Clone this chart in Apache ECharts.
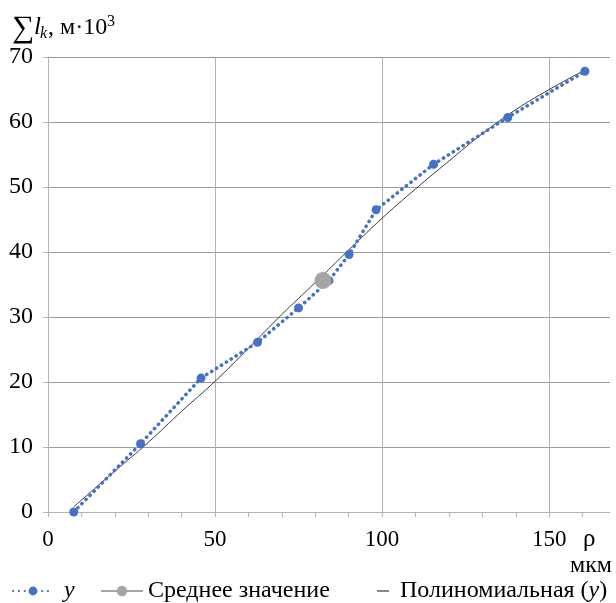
<!DOCTYPE html>
<html>
<head>
<meta charset="utf-8">
<script src="https://cdn.jsdelivr.net/npm/echarts@6/dist/echarts.min.js"></script>
<style>html,body{margin:0;padding:0;background:#fff}#c{width:616px;height:603px}</style>
</head>
<body>
<div id="c"></div>
<script>
// Measured points (ρ, мкм ; Σl_k, м·10³)
const rhoValues = [7.7, 27.7, 45.8, 62.7, 75.0, 84.1, 90.1, 98.2, 115.4, 137.6, 160.7];
const sumValues = [0, 10.5, 20.6, 26.1, 31.4, 35.6, 39.6, 46.5, 53.5, 60.7, 67.8];
// Mean value point
const meanRho = [82.3];
const meanSum = [35.6];
// Polynomial trendline
const trendRho = [7.7, 20, 30, 40, 50, 60, 70, 80, 90, 100, 110, 120, 130, 140, 150, 160.7];
const trendSum = [0.8, 6.3, 10.7, 15.5, 20.1, 25.2, 30.4, 35.3, 40.3, 45.2, 49.7, 54.0, 58.2, 61.9, 65.0, 68.0];
// Axis ticks
const xTicks = [0, 50, 100, 150];
const yTicks = [0, 10, 20, 30, 40, 50, 60, 70];

const seriesNames = ['y', 'Среднее значение', 'Полиномиальная (y)'];
const FONT = '"Liberation Serif", "Times New Roman", serif';

const zip = (a, b) => a.map((v, i) => [v, b[i]]);

const chart = echarts.init(document.getElementById('c'), null, {renderer: 'canvas'});

const legendText = (pad) => ({
  fontFamily: FONT, fontSize: 24, color: '#000', padding: [0, 0, 0, pad],
  rich: { i: { fontFamily: FONT, fontSize: 24, fontStyle: 'italic', color: '#000' } }
});
const legendFmt = n => n === 'y' ? '{i|y}' : n.replace('(y)', '({i|y})');

chart.setOption({
  animation: false,
  backgroundColor: '#fff',
  grid: { left: 48, right: -2, top: 57, bottom: 91, containLabel: false },
  xAxis: {
    type: 'value', min: xTicks[0], max: 170, interval: 50,
    axisLine: { show: true, onZero: false, lineStyle: { color: '#b5b5b5', width: 1 } },
    axisTick: { show: true, length: 5, lineStyle: { color: '#b5b5b5' } },
    minorTick: { show: true, splitNumber: 5, length: 5, lineStyle: { color: '#b5b5b5' } },
    splitLine: { show: true, lineStyle: { color: '#b0b0b0', width: 1 } },
    axisLabel: {
      margin: 16, fontFamily: FONT, fontSize: 23, color: '#000',
      showMaxLabel: false,
      formatter: v => xTicks.indexOf(v) >= 0 ? String(v) : ''
    }
  },
  yAxis: {
    type: 'value', min: yTicks[0], max: yTicks[yTicks.length - 1], interval: 10,
    axisLine: { show: true, lineStyle: { color: '#b5b5b5', width: 1 } },
    axisTick: { show: true, length: 5, lineStyle: { color: '#b5b5b5' } },
    splitLine: { show: true, lineStyle: { color: '#9a9a9a', width: 1 } },
    axisLabel: { margin: 15, fontFamily: FONT, fontSize: 24, color: '#000' }
  },
  legend: [
    { data: [seriesNames[0]], left: 12, top: 579, padding: 0, itemWidth: 40, itemHeight: 11, itemGap: 10,
      textStyle: legendText(6), formatter: legendFmt },
    { data: [seriesNames[1]], left: 100, top: 579, padding: 0, itemWidth: 42, itemHeight: 13, itemGap: 5,
      textStyle: legendText(0), formatter: legendFmt },
    { data: [{ name: seriesNames[2], icon: 'rect' }], left: 377, top: 579, padding: 0, itemWidth: 12, itemHeight: 1.2, itemGap: 14,
      textStyle: legendText(6), formatter: legendFmt }
  ],
  series: [
    {
      name: seriesNames[2], type: 'line', data: zip(trendRho, trendSum),
      smooth: 0.4, symbol: 'none', z: 2,
      lineStyle: { color: '#3a3a3a', width: 1 }, itemStyle: { color: '#3a3a3a' }
    },
    {
      name: seriesNames[0], type: 'line', data: zip(rhoValues, sumValues),
      symbol: 'circle', symbolSize: 9, z: 3,
      itemStyle: { color: '#4472C4' },
      lineStyle: { color: '#4472C4', width: 3.5, type: [0.3, 5.5], cap: 'round' }
    },
    {
      name: seriesNames[1], type: 'line', data: zip(meanRho, meanSum),
      symbol: 'circle', symbolSize: 17, z: 4,
      itemStyle: { color: '#a5a5a5' },
      lineStyle: { color: '#a5a5a5', width: 3 }
    }
  ],
  graphic: [
    { type: 'rect', shape: { x: 610, y: 40, width: 10, height: 480 }, style: { fill: '#fff' }, z: 100 },
    { type: 'text', left: 12, top: 13, z: 101,
      style: { text: '∑', font: '31px ' + FONT, fill: '#000' } },
    { type: 'text', left: 34, top: 15, z: 101,
      style: { text: 'l', font: 'italic 25px ' + FONT, fill: '#000' } },
    { type: 'text', left: 40, top: 26, z: 101,
      style: { text: 'k', font: 'italic 16px ' + FONT, fill: '#000' } },
    { type: 'text', left: 48, top: 16, z: 101,
      style: { text: ', м·10', font: '24px ' + FONT, fill: '#000' } },
    { type: 'text', left: 107, top: 14, z: 101,
      style: { text: '3', font: '16px ' + FONT, fill: '#000' } },
    { type: 'text', left: 583, top: 527, z: 101,
      style: { text: 'ρ', font: '25px ' + FONT, fill: '#000' } },
    { type: 'text', left: 570, top: 554, z: 101,
      style: { text: 'мкм', font: '24px ' + FONT, fill: '#000' } }
  ]
});
</script>
</body>
</html>
